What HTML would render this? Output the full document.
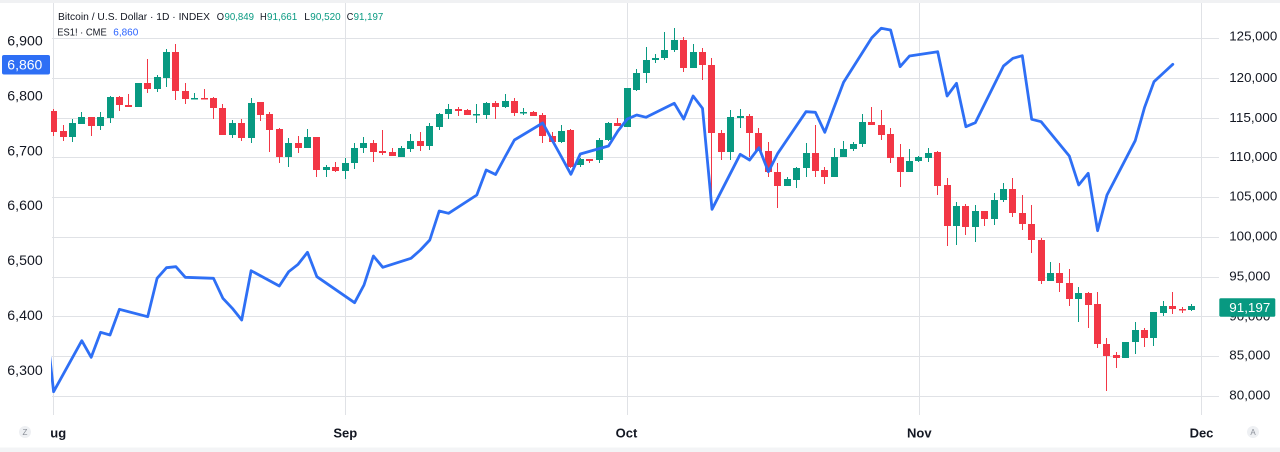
<!DOCTYPE html>
<html><head><meta charset="utf-8"><style>
html,body{margin:0;padding:0;background:#fff;width:1280px;height:452px;overflow:hidden}
svg{display:block}
text{font-family:"Liberation Sans",Arial,sans-serif}
</style></head><body>
<svg width="1280" height="452" viewBox="0 0 1280 452" xmlns="http://www.w3.org/2000/svg">
<defs><clipPath id="pc"><rect x="51" y="3" width="1168" height="412"/></clipPath>
<clipPath id="tc"><rect x="50.5" y="416" width="1170" height="30"/></clipPath></defs>
<rect x="0" y="0" width="1280" height="452" fill="#fff"/>
<rect x="0" y="0" width="1280" height="3" fill="#f0f1f3"/>
<rect x="0" y="447.5" width="1280" height="4.5" fill="#f3f4f6"/>
<g stroke="#e0e2e6" stroke-width="1" fill="none">
<path d="M52 38.5H1219M52 78.5H1219M52 118.5H1219M52 157.5H1219M52 197.5H1219M52 237.5H1219M52 277.5H1219M52 316.5H1219M52 356.5H1219M52 396.5H1219"/>
<path d="M53.5 3V415M345.5 3V415M627.5 3V415M919.5 3V415M1201.5 3V415"/>
</g>
<g clip-path="url(#pc)">
<path fill="#f23645" d="M50 111h7v21h-7zM53 109h1v27h-1zM60 131h7v6h-7zM63 125h1v16h-1zM88 117h7v9h-7zM91 117h1v19h-1zM116 97h7v8h-7zM119 96h1v15h-1zM125 105h7v2h-7zM128 94h1v13h-1zM144 83h7v6h-7zM147 59h1v34h-1zM172 52h7v39h-7zM175 44h1v56h-1zM182 91h7v8h-7zM185 83h1v21h-1zM201 98h7v1.5h-7zM204 89h1v10h-1zM210 98h7v10h-7zM213 97h1v22h-1zM219 108h7v27h-7zM222 104h1v31h-1zM238 123h7v15h-7zM241 119h1v22h-1zM257 102h7v13h-7zM260 102h1v19h-1zM266 114h7v16h-7zM269 112h1v40h-1zM276 129h7v28h-7zM279 128h1v35h-1zM295 143h7v5h-7zM298 136h1v17h-1zM313 137h7v33h-7zM316 137h1v40h-1zM332 167h7v4h-7zM335 162h1v10h-1zM370 143h7v9h-7zM373 140h1v22h-1zM379 151h7v2h-7zM382 130h1v25h-1zM389 152h7v4h-7zM392 148h1v8h-1zM417 141h7v5h-7zM420 132h1v19h-1zM455 109h7v2h-7zM458 107h1v9h-1zM464 110h7v5h-7zM467 109h1v6h-1zM492 103h7v4h-7zM495 101h1v18h-1zM511 101h7v12h-7zM514 98h1v18h-1zM530 112h7v4h-7zM533 111h1v5h-1zM539 115h7v21h-7zM542 113h1v30h-1zM549 136h7v6h-7zM552 132h1v11h-1zM567 130h7v37h-7zM570 129h1v39h-1zM586 159h7v2h-7zM589 159h1v4h-1zM614 123h7v3h-7zM617 118h1v8h-1zM680 40h7v28h-7zM683 37h1v35h-1zM699 52h7v13h-7zM702 48h1v32h-1zM708 65h7v68h-7zM711 58h1v147h-1zM718 133h7v19h-7zM721 130h1v30h-1zM746 116h7v17h-7zM749 114h1v43h-1zM755 133h7v18h-7zM758 128h1v23h-1zM765 151h7v21h-7zM768 142h1v35h-1zM774 172h7v14h-7zM777 163h1v45h-1zM812 153h7v18h-7zM815 125h1v52h-1zM821 170h7v7h-7zM824 167h1v17h-1zM868 122h7v3h-7zM871 107h1v18h-1zM878 125h7v10h-7zM881 110h1v30h-1zM887 134h7v24h-7zM890 128h1v35h-1zM897 157h7v15h-7zM900 144h1v43h-1zM934 152h7v34h-7zM937 151h1v44h-1zM944 185h7v41h-7zM947 178h1v68h-1zM962 206h7v21h-7zM965 204h1v31h-1zM981 211h7v8h-7zM984 211h1v15h-1zM1009 189h7v24h-7zM1012 178h1v39h-1zM1019 213h7v11h-7zM1022 195h1v35h-1zM1028 224h7v16h-7zM1031 205h1v48h-1zM1038 240h7v41h-7zM1041 238h1v46h-1zM1056 273h7v10h-7zM1059 263h1v29h-1zM1066 283h7v16h-7zM1069 269h1v37h-1zM1085 293h7v12h-7zM1088 292h1v36h-1zM1094 304h7v40h-7zM1097 292h1v56h-1zM1103 344h7v12h-7zM1106 338h1v53h-1zM1113 355h7v3h-7zM1116 352h1v16h-1zM1141 330h7v8h-7zM1144 328h1v19h-1zM1169 306h7v3h-7zM1172 292h1v22h-1zM1179 309h7v1.5h-7zM1182 307h1v6h-1z"/>
<path fill="#089981" d="M69 123h7v14h-7zM72 119h1v23h-1zM78 117h7v7h-7zM81 112h1v12h-1zM97 117h7v9h-7zM100 112h1v18h-1zM107 97h7v21h-7zM110 96h1v27h-1zM135 83h7v24h-7zM154 77h7v12h-7zM157 75h1v17h-1zM163 52h7v26h-7zM166 49h1v38h-1zM191 98h7v1.5h-7zM194 93h1v6h-1zM229 123h7v12h-7zM232 120h1v18h-1zM248 103h7v35h-7zM251 98h1v45h-1zM285 143h7v14h-7zM288 138h1v29h-1zM304 137h7v11h-7zM307 129h1v19h-1zM323 167h7v3h-7zM326 165h1v12h-1zM342 163h7v8h-7zM345 158h1v21h-1zM351 148h7v15h-7zM354 143h1v26h-1zM360 143h7v5h-7zM363 137h1v16h-1zM398 148h7v9h-7zM401 146h1v11h-1zM407 141h7v8h-7zM410 134h1v18h-1zM426 126h7v20h-7zM429 123h1v27h-1zM436 114h7v13h-7zM439 113h1v17h-1zM445 109h7v5h-7zM448 104h1v15h-1zM473 114h7v1.5h-7zM476 104h1v19h-1zM483 103h7v12h-7zM486 102h1v17h-1zM502 101h7v6h-7zM505 94h1v14h-1zM520 112h7v1.5h-7zM523 108h1v7h-1zM558 131h7v11h-7zM561 125h1v18h-1zM577 159h7v6h-7zM580 158h1v9h-1zM596 140h7v20h-7zM599 138h1v25h-1zM605 123h7v17h-7zM608 122h1v19h-1zM624 88h7v39h-7zM633 73h7v17h-7zM636 69h1v22h-1zM643 60h7v13h-7zM646 47h1v36h-1zM652 58h7v2h-7zM655 54h1v9h-1zM661 50h7v8h-7zM664 32h1v28h-1zM671 40h7v10h-7zM674 28h1v24h-1zM690 52h7v16h-7zM693 44h1v24h-1zM727 117h7v35h-7zM730 110h1v50h-1zM737 116h7v2h-7zM740 109h1v19h-1zM784 179h7v7h-7zM787 177h1v9h-1zM793 168h7v12h-7zM796 167h1v21h-1zM803 153h7v15h-7zM806 143h1v34h-1zM831 157h7v20h-7zM834 148h1v29h-1zM840 149h7v8h-7zM843 141h1v16h-1zM850 144h7v5h-7zM853 142h1v9h-1zM859 122h7v22h-7zM862 114h1v33h-1zM906 161h7v11h-7zM909 149h1v23h-1zM915 157h7v4h-7zM918 156h1v6h-1zM925 153h7v5h-7zM928 148h1v14h-1zM953 206h7v20h-7zM956 202h1v43h-1zM972 211h7v16h-7zM975 205h1v37h-1zM991 200h7v19h-7zM994 193h1v32h-1zM1000 189h7v11h-7zM1003 183h1v19h-1zM1047 273h7v8h-7zM1050 262h1v19h-1zM1075 293h7v6h-7zM1078 287h1v35h-1zM1122 342h7v16h-7zM1132 330h7v12h-7zM1135 322h1v32h-1zM1150 312h7v26h-7zM1153 312h1v34h-1zM1160 306h7v7h-7zM1163 301h1v15h-1zM1188 306h7v4h-7zM1191 304h1v7h-1z"/>
<polyline fill="none" stroke="#2e6ff5" stroke-width="2.8" stroke-linejoin="round" stroke-linecap="round" points="44.2,306 53.6,391.7 81.8,340.7 91.2,357.3 100.6,332.3 110,335 119.4,309.3 147.7,316.7 157.1,278.3 166.5,267.7 175.9,266.7 185.3,277.3 213.5,278.3 222.9,298.3 232.3,308.3 241.7,320 251.1,270.7 279.3,286 288.7,271.7 298.1,264.3 307.5,252.3 316.9,276.7 354.6,302.7 364,285 373.4,256 382.8,267.3 411,258.3 420.4,250 429.8,240 439.2,211 448.6,213.3 476.8,195 486.2,170 495.6,174.5 505,157 514.4,140 542.7,123 552.1,140 561.5,157 570.9,174.3 580.3,154 608.5,146 617.9,131 627.3,119 636.7,115 646.1,117.3 674.3,103.3 683.7,119 693.1,96 702.5,108.3 712,209.3 740.2,154.3 749.6,160 759,147.7 768.4,171.7 777.8,153.3 806,111.7 815.4,112.3 824.8,132.3 834.2,107 843.6,82.3 871.8,37.7 881.2,28.3 890.6,30 900.1,66.7 909.5,56 937.7,51.7 947.1,96 956.5,83.3 965.9,126.7 975.3,122.7 1003.5,66 1012.9,58.3 1022.3,55.7 1031.7,119.3 1041.1,121.7 1069.3,156 1078.7,185 1088.2,173.3 1097.6,230.7 1107,195 1135.2,140.7 1144.6,107.3 1154,81.7 1163.4,73 1172.8,64.3"/>
</g>
<!-- legend -->
<g font-size="10.5" fill="#131722">
<text x="58" y="20" textLength="152" lengthAdjust="spacingAndGlyphs">Bitcoin / U.S. Dollar · 1D · INDEX</text>
<text x="216.7" y="20" textLength="7.3" lengthAdjust="spacingAndGlyphs">O</text>
<text x="224.5" y="20" textLength="29.5" lengthAdjust="spacingAndGlyphs" fill="#089981">90,849</text>
<text x="260" y="20" textLength="6.7" lengthAdjust="spacingAndGlyphs">H</text>
<text x="267" y="20" textLength="30.3" lengthAdjust="spacingAndGlyphs" fill="#089981">91,661</text>
<text x="304.3" y="20" textLength="5.7" lengthAdjust="spacingAndGlyphs">L</text>
<text x="310.3" y="20" textLength="30.4" lengthAdjust="spacingAndGlyphs" fill="#089981">90,520</text>
<text x="346.7" y="20" textLength="6.6" lengthAdjust="spacingAndGlyphs">C</text>
<text x="353.6" y="20" textLength="29.7" lengthAdjust="spacingAndGlyphs" fill="#089981">91,197</text>
<text x="57.3" y="35.3" textLength="49.4" lengthAdjust="spacingAndGlyphs">ES1! · CME</text>
<text x="113.3" y="35.3" textLength="25" lengthAdjust="spacingAndGlyphs" fill="#2962ff">6,860</text>
</g>
<!-- left axis -->
<g font-size="13.5" fill="#131722">
<text x="7.3" y="45.5" textLength="35.4" lengthAdjust="spacingAndGlyphs">6,900</text>
<text x="7.3" y="100.5" textLength="35.4" lengthAdjust="spacingAndGlyphs">6,800</text>
<text x="7.3" y="155.3" textLength="35.4" lengthAdjust="spacingAndGlyphs">6,700</text>
<text x="7.3" y="210" textLength="35.4" lengthAdjust="spacingAndGlyphs">6,600</text>
<text x="7.3" y="265" textLength="35.4" lengthAdjust="spacingAndGlyphs">6,500</text>
<text x="7.3" y="320" textLength="35.4" lengthAdjust="spacingAndGlyphs">6,400</text>
<text x="7.3" y="375" textLength="35.4" lengthAdjust="spacingAndGlyphs">6,300</text>
</g>
<rect x="2" y="55" width="48" height="19.5" rx="2" fill="#2e6ff5"/>
<text x="7.3" y="69.3" font-size="13.5" fill="#fff" textLength="35" lengthAdjust="spacingAndGlyphs">6,860</text>
<!-- right axis -->
<g font-size="12.5" fill="#131722">
<text x="1229.3" y="40.7" textLength="48" lengthAdjust="spacingAndGlyphs">125,000</text>
<text x="1229.3" y="81.8" textLength="48" lengthAdjust="spacingAndGlyphs">120,000</text>
<text x="1229.3" y="121.8" textLength="48" lengthAdjust="spacingAndGlyphs">115,000</text>
<text x="1229.3" y="161.2" textLength="48" lengthAdjust="spacingAndGlyphs">110,000</text>
<text x="1229.3" y="200.5" textLength="48" lengthAdjust="spacingAndGlyphs">105,000</text>
<text x="1229.3" y="240.5" textLength="48" lengthAdjust="spacingAndGlyphs">100,000</text>
<text x="1229.3" y="280.5" textLength="41" lengthAdjust="spacingAndGlyphs">95,000</text>
<text x="1229.3" y="320.5" textLength="41" lengthAdjust="spacingAndGlyphs">90,000</text>
<text x="1229.3" y="359.5" textLength="41" lengthAdjust="spacingAndGlyphs">85,000</text>
<text x="1229.3" y="399.5" textLength="41" lengthAdjust="spacingAndGlyphs">80,000</text>
</g>
<rect x="1219.3" y="298.3" width="56" height="18.4" rx="1.5" fill="#089981"/>
<text x="1229.3" y="311.8" font-size="12.5" fill="#fff" textLength="41" lengthAdjust="spacingAndGlyphs">91,197</text>
<!-- time axis -->
<g font-size="13" font-weight="bold" fill="#131722" text-anchor="middle" clip-path="url(#tc)">
<text x="53.5" y="437.5">Aug</text>
<text x="345.3" y="437.5">Sep</text>
<text x="626.5" y="437.5">Oct</text>
<text x="919.3" y="437.5">Nov</text>
<text x="1201.5" y="437.5">Dec</text>
</g>
<circle cx="25" cy="432" r="6" fill="#eef0f3"/>
<text x="25" y="435" font-size="8" fill="#8a8f98" text-anchor="middle">Z</text>
<circle cx="1253" cy="432" r="6" fill="#eef0f3"/>
<text x="1253" y="435" font-size="8" fill="#8a8f98" text-anchor="middle">A</text>
</svg>
</body></html>
